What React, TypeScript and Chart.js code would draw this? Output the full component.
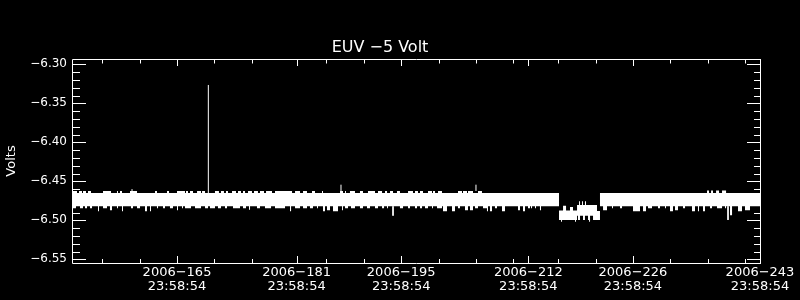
import React, { useEffect, useRef } from 'react';
import { Chart, registerables } from 'chart.js';

Chart.register(...registerables);

// ---------- text ----------
const TITLE = 'EUV −5 Volt';
const Y_TITLE = 'Volts';

// ---------- axes ----------
const yMin = -6.5547;
const yMax = -6.2932;
const yTickValues = [-6.55, -6.5, -6.45, -6.4, -6.35, -6.3];
const yMinorStep = 0.01;

const xMin = 151.95;
const xMax = 243.99924;
const xTickDays = [165, 181, 195, 212, 226, 243];
const xTickTimeOfDay = 0.99924; // 23:58:54 as a fraction of a day
const xTickDateLabels = ['2006−165', '2006−181', '2006−195', '2006−212', '2006−226', '2006−243'];
const xTickTimeLabel = '23:58:54';
const xMinorTicks = [156, 161, 171, 176, 186, 191, 201, 206, 211, 217, 222, 232, 237, 242];

// ---------- data (day of year, volts) ----------
// core band: [start, end, top, bottom]
const coreSegments: number[][] = [
  [151.95, 217.11, -6.465, -6.482],
  [217.11, 219.52, -6.4875, -6.4995],
  [219.52, 222.19, -6.4804, -6.4941],
  [222.19, 222.59, -6.488, -6.4995],
  [222.59, 244.0, -6.465, -6.482],
];

// excursions above the band: [start, end, max]
const upperTeeth: number[][] = [
  [152.08, 152.62, -6.4624], [152.89, 153.29, -6.4624], [153.42, 153.82, -6.4624],
  [154.09, 154.49, -6.4624], [156.1, 157.17, -6.4624], [157.97, 158.1, -6.4624],
  [158.37, 158.64, -6.4624], [159.71, 160.65, -6.4624], [163.06, 163.32, -6.4624],
  [164.66, 164.93, -6.4624], [166.0, 167.07, -6.4624], [167.2, 167.47, -6.4624],
  [167.74, 168.14, -6.4624], [168.68, 169.21, -6.4624], [169.35, 169.75, -6.4624],
  [171.08, 171.61, -6.4624], [171.88, 172.28, -6.4624], [172.55, 172.82, -6.4624],
  [173.36, 173.89, -6.4624], [174.16, 174.56, -6.4624], [174.83, 175.1, -6.4624],
  [175.5, 176.03, -6.4624], [176.3, 176.83, -6.4624], [177.1, 177.64, -6.4624],
  [177.91, 178.71, -6.4624], [179.11, 181.39, -6.4624], [181.79, 182.46, -6.4624],
  [182.86, 183.39, -6.4624], [184.06, 184.46, -6.4624], [185.4, 185.53, -6.4624],
  [187.81, 188.21, -6.4624], [188.48, 188.61, -6.4624], [189.14, 189.81, -6.4624],
  [190.48, 190.88, -6.4624], [191.55, 192.49, -6.4624], [192.89, 193.43, -6.4624],
  [193.83, 194.1, -6.4624], [194.5, 194.9, -6.4624], [195.43, 195.83, -6.4624],
  [196.91, 197.57, -6.4624], [197.84, 198.24, -6.4624], [198.51, 198.91, -6.4624],
  [199.58, 200.12, -6.4624], [200.25, 200.52, -6.4624], [200.92, 201.45, -6.4624],
  [203.59, 204.13, -6.4624], [204.26, 204.8, -6.4624], [204.93, 205.6, -6.4624],
  [206.27, 206.8, -6.4624],
  [217.65, 218.05, -6.4813], [218.58, 218.98, -6.483], [219.79, 219.92, -6.4757],
  [220.19, 220.32, -6.4757], [220.58, 220.72, -6.4757],
  [236.91, 237.18, -6.4617], [237.45, 237.71, -6.4617], [238.12, 238.52, -6.4617],
  [238.92, 239.46, -6.4617],
];

// excursions below the band: [start, end, min]
const lowerTeeth: number[][] = [
  [152.08, 152.48, -6.4846], [153.02, 153.42, -6.4846], [153.69, 153.96, -6.4846],
  [154.36, 154.63, -6.4846], [155.43, 155.56, -6.4885], [156.1, 156.63, -6.4846],
  [157.03, 157.3, -6.487], [157.97, 158.1, -6.4846], [158.64, 158.77, -6.4885],
  [159.84, 160.11, -6.4846], [160.65, 161.05, -6.4846], [161.72, 161.98, -6.4885],
  [162.39, 162.52, -6.4885], [163.32, 163.46, -6.4846], [164.13, 164.39, -6.4846],
  [165.06, 165.46, -6.4846], [166.0, 166.13, -6.487], [166.67, 166.8, -6.4846],
  [167.07, 167.87, -6.4846], [168.41, 169.21, -6.4846], [169.75, 170.15, -6.4846],
  [170.41, 171.08, -6.4846], [171.48, 171.88, -6.4846], [172.42, 172.69, -6.4846],
  [173.49, 174.43, -6.4846], [174.83, 175.23, -6.4846], [175.63, 175.77, -6.4865],
  [176.7, 177.1, -6.4846], [177.77, 178.58, -6.4846], [179.11, 180.45, -6.4846],
  [181.12, 181.26, -6.4885], [181.79, 182.46, -6.4846], [182.86, 183.39, -6.4846],
  [183.79, 184.19, -6.4846], [184.73, 184.86, -6.4846], [185.53, 185.8, -6.4885],
  [186.07, 186.47, -6.487], [186.87, 187.54, -6.4885], [188.08, 188.21, -6.487],
  [188.48, 188.88, -6.4846], [189.28, 189.81, -6.4846], [190.48, 190.88, -6.4846],
  [191.42, 191.82, -6.4846], [192.49, 192.89, -6.4846], [193.43, 193.7, -6.4846],
  [194.1, 194.23, -6.4846], [195.83, 196.24, -6.4846], [196.91, 197.17, -6.4846],
  [197.84, 198.11, -6.4846], [198.51, 198.78, -6.4846], [199.18, 199.58, -6.4846],
  [200.12, 200.25, -6.4846], [200.79, 201.45, -6.4846], [201.59, 202.12, -6.4885],
  [202.79, 203.19, -6.4885], [203.59, 203.86, -6.4846], [204.53, 204.93, -6.487],
  [205.2, 205.6, -6.487], [205.87, 206.27, -6.4846], [206.94, 207.47, -6.4846],
  [207.47, 207.61, -6.4885], [207.87, 208.14, -6.4885], [208.54, 208.81, -6.4846],
  [209.48, 209.88, -6.4885], [211.62, 211.89, -6.487], [212.29, 212.56, -6.4885],
  [212.96, 213.23, -6.4846], [213.36, 213.5, -6.4846], [213.9, 214.03, -6.4846],
  [214.56, 214.7, -6.487],
  [217.38, 217.51, -6.5018], [219.25, 219.38, -6.5018], [219.65, 219.92, -6.4995],
  [220.32, 220.58, -6.4995], [220.99, 221.26, -6.4995], [221.13, 221.26, -6.5018],
  [221.66, 222.19, -6.4995],
  [223.0, 223.53, -6.487], [224.2, 224.33, -6.4846], [225.27, 225.54, -6.4846],
  [227.01, 227.94, -6.4885], [228.35, 228.75, -6.4885], [229.02, 229.55, -6.4846],
  [230.35, 230.62, -6.4846], [231.29, 231.42, -6.4846], [231.96, 232.36, -6.4885],
  [232.63, 233.03, -6.487], [233.7, 233.97, -6.4846], [234.9, 235.3, -6.4885],
  [235.7, 235.84, -6.4885], [236.37, 236.64, -6.4885], [237.31, 237.58, -6.4846],
  [238.25, 238.92, -6.4846], [239.32, 239.46, -6.4846], [239.99, 240.26, -6.4936],
  [241.06, 241.59, -6.4885], [241.99, 242.66, -6.487],
];

// single-sample spikes: [day, from, to]
const spikes: number[][] = [
  [170.19, -6.465, -6.3265],
  [159.98, -6.4624, -6.46],
  [187.94, -6.4624, -6.4543],
  [206.0, -6.4624, -6.4543],
  [194.9, -6.482, -6.494],
  [239.72, -6.482, -6.4995],
];

// ---------- build envelope from the tables ----------
function buildEnvelope() {
  const set = new Set<number>();
  [...coreSegments, ...upperTeeth, ...lowerTeeth].forEach((s) => {
    set.add(s[0]);
    set.add(s[1]);
  });
  const xs = Array.from(set).sort((a, b) => a - b);
  const top: { x: number; y: number }[] = [];
  const bot: { x: number; y: number }[] = [];
  let lastT = 0;
  let lastB = 0;
  for (let i = 0; i < xs.length - 1; i++) {
    const m = (xs[i] + xs[i + 1]) / 2;
    const seg = coreSegments.find((s) => m >= s[0] && m < s[1]);
    if (!seg) continue;
    let t = seg[2];
    let b = seg[3];
    upperTeeth.forEach(([a, e, v]) => {
      if (m > a && m < e) t = Math.max(t, v);
    });
    lowerTeeth.forEach(([a, e, v]) => {
      if (m > a && m < e) b = Math.min(b, v);
    });
    top.push({ x: xs[i], y: t });
    bot.push({ x: xs[i], y: b });
    lastT = t;
    lastB = b;
  }
  const xe = xs[xs.length - 1];
  top.push({ x: xe, y: lastT });
  bot.push({ x: xe, y: lastB });
  return { top, bot };
}

const FONT = '"DejaVu Sans", sans-serif';

const framePlugin = {
  id: 'idlFrame',
  beforeDraw(chart: any) {
    const { ctx, width, height } = chart;
    ctx.save();
    ctx.fillStyle = '#000';
    ctx.fillRect(0, 0, width, height);
    ctx.restore();
  },
  afterDraw(chart: any) {
    const { ctx, chartArea } = chart;
    const { left, right, top, bottom } = chartArea;
    const xs = chart.scales.x;
    const ys = chart.scales.y;
    ctx.save();
    ctx.strokeStyle = '#fff';
    ctx.lineWidth = 1;
    ctx.beginPath();
    ctx.rect(left + 0.5, top + 0.5, right - left, bottom - top);
    // y ticks (major every 0.05, minor every 0.01)
    const n = Math.round((yTickValues[yTickValues.length - 1] - yTickValues[0]) / yMinorStep);
    for (let i = 0; i <= n; i++) {
      const v = yTickValues[0] + i * yMinorStep;
      const major = i % 5 === 0;
      const py = Math.round(ys.getPixelForValue(v)) + 0.5;
      ctx.moveTo(left, py);
      ctx.lineTo(left + (major ? 14 : 8), py);
      ctx.moveTo(right + 1, py);
      ctx.lineTo(right + 1 - (major ? 14 : 7), py);
    }
    // x ticks
    xTickDays.forEach((d) => {
      const px = Math.round(xs.getPixelForValue(d + xTickTimeOfDay)) + 0.5;
      ctx.moveTo(px, bottom + 1);
      ctx.lineTo(px, bottom - 7);
      ctx.moveTo(px, top);
      ctx.lineTo(px, top + 7);
    });
    xMinorTicks.forEach((d) => {
      const px = Math.round(xs.getPixelForValue(d)) + 0.5;
      ctx.moveTo(px, bottom + 1);
      ctx.lineTo(px, bottom - 4);
      ctx.moveTo(px, top);
      ctx.lineTo(px, top + 4.5);
    });
    ctx.stroke();
    ctx.restore();
  },
};

export default function App() {
  const ref = useRef<HTMLCanvasElement>(null);
  useEffect(() => {
    document.body.style.margin = '0';
    document.body.style.background = '#000';
    const { top, bot } = buildEnvelope();
    const spikePts: any[] = [];
    spikes.forEach(([x, a, b]) => {
      spikePts.push({ x, y: a }, { x, y: b }, { x, y: null });
    });
    const xTickValues = xTickDays.map((d) => d + xTickTimeOfDay);
    const chart = new Chart(ref.current as HTMLCanvasElement, {
      type: 'line',
      data: {
        datasets: [
          {
            data: top,
            stepped: 'before',
            borderWidth: 0,
            borderColor: 'rgba(0,0,0,0)',
            pointRadius: 0,
            fill: false,
          },
          {
            data: bot,
            stepped: 'before',
            borderWidth: 0,
            borderColor: 'rgba(0,0,0,0)',
            backgroundColor: '#fff',
            pointRadius: 0,
            fill: '-1',
          },
          {
            data: spikePts,
            borderWidth: 1,
            borderColor: '#fff',
            pointRadius: 0,
            spanGaps: false,
            fill: false,
          },
        ],
      } as any,
      options: {
        animation: false,
        responsive: false,
        events: [],
        layout: { padding: { left: 0, right: 40, top: 0, bottom: 0 } },
        plugins: {
          legend: { display: false },
          tooltip: { enabled: false },
          title: {
            display: true,
            text: TITLE,
            color: '#fff',
            font: { family: FONT, size: 16, weight: 'normal', lineHeight: 1.2 },
            padding: { top: 38, bottom: 1.8 },
          },
        },
        scales: {
          x: {
            type: 'linear',
            min: xMin,
            max: xMax,
            afterBuildTicks: (s: any) => {
              s.ticks = xTickValues.map((v) => ({ value: v }));
            },
            afterFit: (s: any) => {
              s.height = 37;
            },
            grid: { display: false, drawTicks: false },
            border: { display: false },
            ticks: {
              autoSkip: false,
              maxRotation: 0,
              minRotation: 0,
              color: '#fff',
              padding: 3,
              font: { family: FONT, size: 13, lineHeight: 1.08 },
              callback: (_v: any, i: number) => [xTickDateLabels[i], xTickTimeLabel],
            },
          },
          y: {
            type: 'linear',
            min: yMin,
            max: yMax,
            afterBuildTicks: (s: any) => {
              s.ticks = yTickValues.map((v) => ({ value: v }));
            },
            afterFit: (s: any) => {
              s.width = 72;
            },
            grid: { display: false, drawTicks: false },
            border: { display: false },
            ticks: {
              color: '#fff',
              padding: 5,
              font: { family: FONT, size: 12 },
              callback: (v: any) => '−' + Math.abs(Number(v)).toFixed(2),
            },
            title: {
              display: true,
              text: Y_TITLE,
              color: '#fff',
              font: { family: FONT, size: 13 },
              padding: { top: 4, bottom: 0 },
            },
          },
        },
      } as any,
      plugins: [framePlugin],
    });
    return () => chart.destroy();
  }, []);
  return (
    <div style={{ width: 800, height: 300, background: '#000' }}>
      <canvas ref={ref} width={800} height={300} style={{ display: 'block' }} />
    </div>
  );
}
